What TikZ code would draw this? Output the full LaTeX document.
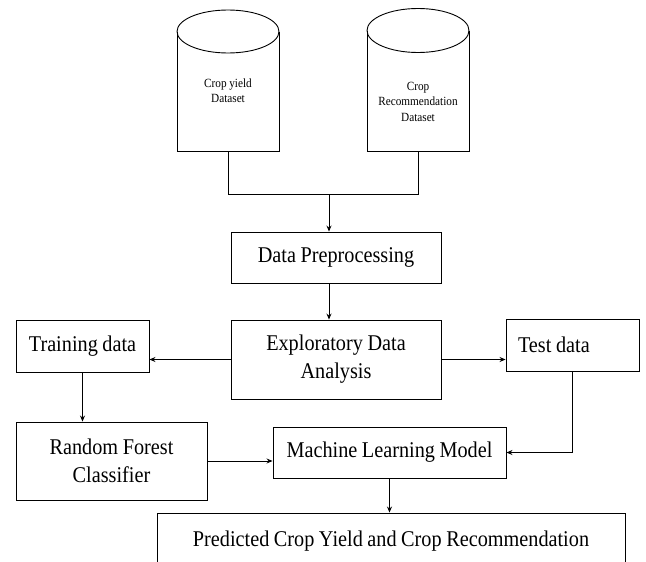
\documentclass[tikz,border=0pt]{standalone}
\usepackage{fontspec}
\setmainfont[FakeStretch=0.9,WordSpace=0.9]{Liberation Serif}
\usetikzlibrary{arrows.meta,calc}

\tikzset{
    box/.style={draw, line width=0.9pt, inner sep=0pt, align=center,
        font=\fontsize{22.5}{28}\selectfont},
    dbtext/.style={align=center, inner sep=0pt,
        font=\fontsize{12.5}{15.5}\selectfont},
    arr/.style={line width=0.9pt, -{Stealth[length=6pt,width=5pt]}},
    wire/.style={line width=0.9pt}
}

\begin{document}
\begin{tikzpicture}[x=1pt,y=-1pt]
\useasboundingbox (0,0) rectangle (646,562);
% databases
\draw[wire] (177,31.5) -- (177,151) -- (279,151) -- (279,31.5);
\draw[wire] (228,31.5) ellipse (51pt and 21.5pt);
\draw[wire] (367,30.5) -- (367,151) -- (469,151) -- (469,30.5);
\draw[wire] (418,30.5) ellipse (51pt and 22pt);
\node[dbtext] (yield) at (228,90.5) {Crop yield\\Dataset};
\node[dbtext] (rec) at (418,101.5) {Crop\\Recommendation\\Dataset};
\coordinate (yieldbot) at (228,151);
\coordinate (recbot) at (418,151);
\coordinate (join) at (329,194);
% boxes
\node[box, minimum width=210pt, minimum height=51pt] (prep) at (336,257.5) {Data Preprocessing};
\node[box, minimum width=210pt, minimum height=79pt] (eda) at (336,359.5) {Exploratory Data\\Analysis};
\node[box, minimum width=133pt, minimum height=52pt] (train) at (82.5,346) {Training data};
\node[box, minimum width=133pt, minimum height=52pt, text width=109pt, inner xsep=12pt, align=flush left] (test) at (572.5,345) {Test data};
\node[box, minimum width=191pt, minimum height=78pt] (rf) at (111.5,461) {Random Forest\\Classifier};
\node[box, minimum width=233pt, minimum height=51pt] (mlm) at (389.5,452.5) {Machine Learning Model};
\node[box, minimum width=468pt, minimum height=56pt] (pred) at (391,541) {Predicted Crop Yield and Crop Recommendation};
% connectors
\draw[wire] (yieldbot) -- (yieldbot |- join) -- (recbot |- join) -- (recbot);
\draw[arr] (join) -- (join |- prep.north);
\draw[arr] (join |- prep.south) -- (join |- eda.north);
\draw[arr] (eda.west) -- (eda.west -| train.east);
\draw[arr] (eda.east) -- (eda.east -| test.west);
\draw[arr] (train.south) -- (train.south |- rf.north);
\draw[arr] (rf.east) -- (rf.east -| mlm.west);
\draw[arr] (test.south) |- (mlm.east);
\draw[arr] (mlm.south) -- (mlm.south |- pred.north);
\end{tikzpicture}
\end{document}
